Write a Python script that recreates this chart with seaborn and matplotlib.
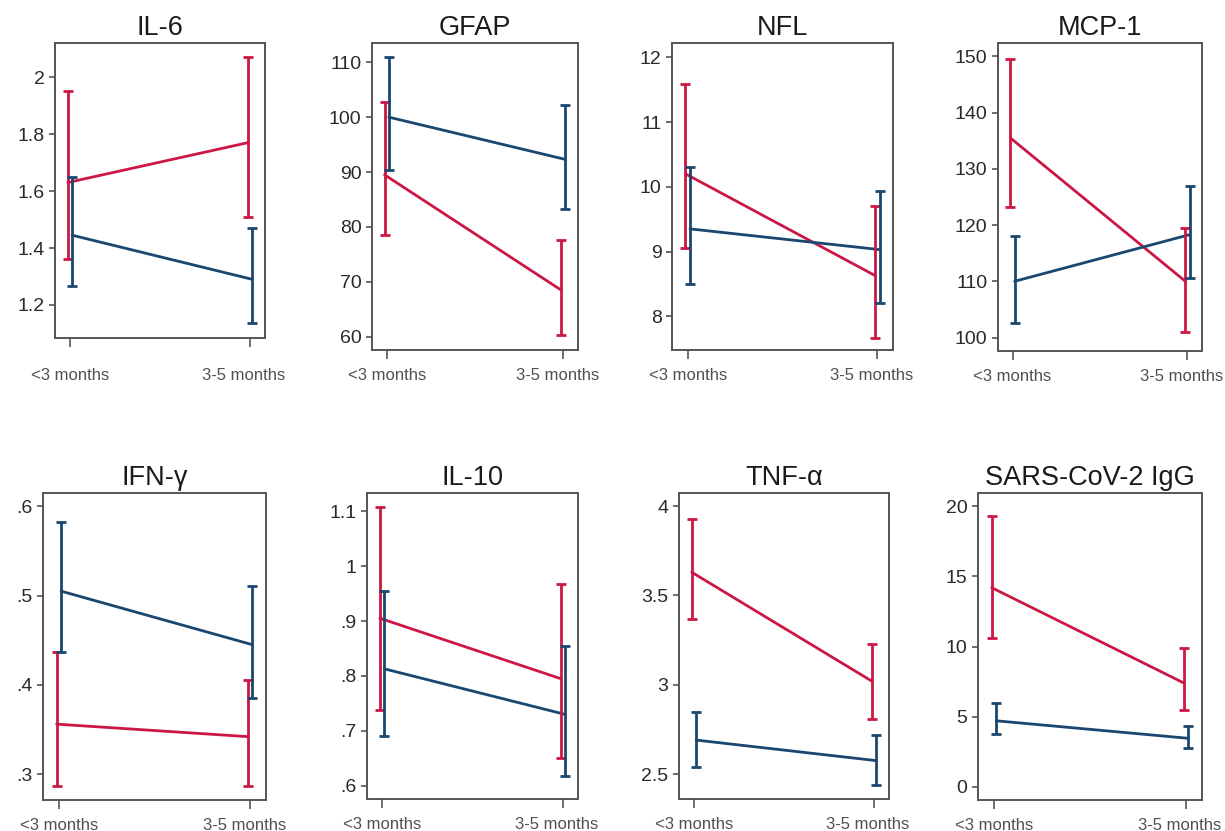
import numpy as np
import pandas as pd
import matplotlib
matplotlib.use("Agg")
import matplotlib.pyplot as plt
import matplotlib.transforms as mtransforms
import seaborn as sns

# === 1. Data (mean, lower CI, upper CI) ===
periods = ["<3 months", "3-5 months"]
markers = ["IL-6", "GFAP", "NFL", "MCP-1", "IFN-γ", "IL-10", "TNF-α", "SARS-CoV-2 IgG"]

red_mean = [[1.63, 1.77], [89.5, 68.5], [10.2, 8.63], [135.5, 110.0],
            [0.356, 0.342], [0.905, 0.795], [3.63, 3.02], [14.2, 7.4]]
red_lo = [[1.36, 1.51], [78.5, 60.3], [9.05, 7.67], [123.2, 101.0],
          [0.287, 0.287], [0.738, 0.650], [3.37, 2.81], [10.6, 5.5]]
red_hi = [[1.95, 2.07], [102.7, 77.7], [11.58, 9.70], [149.5, 119.5],
          [0.437, 0.406], [1.108, 0.967], [3.93, 3.23], [19.3, 9.9]]

blue_mean = [[1.445, 1.29], [100.0, 92.3], [9.35, 9.03], [110.0, 118.3],
             [0.505, 0.445], [0.813, 0.730], [2.69, 2.575], [4.7, 3.45]]
blue_lo = [[1.265, 1.135], [90.3, 83.2], [8.50, 8.20], [102.5, 110.5],
           [0.437, 0.385], [0.690, 0.617], [2.54, 2.44], [3.75, 2.75]]
blue_hi = [[1.65, 1.47], [111.0, 102.3], [10.30, 9.93], [118.0, 127.0],
           [0.582, 0.511], [0.955, 0.855], [2.85, 2.72], [6.0, 4.3]]

y_ticks = [[1.2, 1.4, 1.6, 1.8, 2.0], [60, 70, 80, 90, 100, 110], [8, 9, 10, 11, 12],
           [100, 110, 120, 130, 140, 150], [0.3, 0.4, 0.5, 0.6], [0.6, 0.7, 0.8, 0.9, 1.0, 1.1],
           [2.5, 3.0, 3.5, 4.0], [0, 5, 10, 15, 20]]
y_ticklabels = [["1.2", "1.4", "1.6", "1.8", "2"], ["60", "70", "80", "90", "100", "110"],
                ["8", "9", "10", "11", "12"], ["100", "110", "120", "130", "140", "150"],
                [".3", ".4", ".5", ".6"], [".6", ".7", ".8", ".9", "1", "1.1"],
                ["2.5", "3", "3.5", "4"], ["0", "5", "10", "15", "20"]]
y_lims = [(1.084, 2.12), (57.6, 113.5), (7.48, 12.22), (97.6, 152.4),
          (0.271, 0.615), (0.576, 1.133), (2.36, 4.074), (-0.95, 20.95)]

# === 2. Layout (axes boxes in pixels: left, top, right, bottom) ===
W, H = 1225, 831
boxes = [(55, 43, 265, 338), (372, 43, 578, 350), (672, 43, 893, 350), (998, 43, 1202, 351),
         (43, 493, 266, 800), (367, 493, 578, 799), (679, 493, 889, 799), (978, 493, 1202, 800)]
x_pads = [15, 6.5, 6.5, 6.5, 6.5, 6.5, 6.5, 6.5]

RED = "#cc1744"
BLUE = "#1a476f"

sns.set_theme(style="white")
plt.rcParams["font.family"] = ["Liberation Sans", "DejaVu Sans"]

fig = plt.figure(figsize=(W / 100, H / 100), dpi=100)

for i, name in enumerate(markers):
    l, t, r, b = boxes[i]
    ax = fig.add_axes([l / W, 1 - b / H, (r - l) / W, (b - t) / H])

    df = pd.DataFrame({
        "x": [0, 1, 0, 1],
        "mean": red_mean[i] + blue_mean[i],
        "lo": red_lo[i] + blue_lo[i],
        "hi": red_hi[i] + blue_hi[i],
        "group": ["red", "red", "blue", "blue"],
    })
    # small horizontal dodge between the two groups
    df["xd"] = df["x"] + df["group"].map({"red": -0.012, "blue": 0.012})

    sns.lineplot(data=df, x="xd", y="mean", hue="group", palette={"red": RED, "blue": BLUE},
                 linewidth=2, legend=False, ax=ax)
    for grp, col in [("red", RED), ("blue", BLUE)]:
        d = df[df["group"] == grp]
        ax.errorbar(d["xd"], d["mean"], yerr=[d["mean"] - d["lo"], d["hi"] - d["mean"]],
                    fmt="none", ecolor=col, elinewidth=2, capsize=3.5, capthick=2)

    ax.set_xlim(-0.083, 1.083)
    ax.set_ylim(*y_lims[i])
    ax.set_xticks([0, 1])
    ax.set_xticklabels(periods, fontsize=12, color="#505050")
    ax.set_yticks(y_ticks[i])
    ax.set_yticklabels(y_ticklabels[i], fontsize=14, color="#2a2a2a")
    ax.tick_params(axis="x", bottom=True, direction="out", length=6.5, width=1.2,
                   color="#555555", pad=x_pads[i])
    ax.tick_params(axis="y", left=True, direction="out", length=4.5, width=1.2,
                   color="#555555", pad=3)
    # right-hand label sits a little left of its tick, as in the original
    lab = ax.get_xticklabels()[1]
    lab.set_transform(lab.get_transform() + mtransforms.ScaledTranslation(-6 / 100, 0, fig.dpi_scale_trans))
    ax.set_xlabel("")
    ax.set_ylabel("")
    ax.set_title(name, fontsize=19.5, color="#1a1a1a", pad=6)
    for s in ax.spines.values():
        s.set_color("#555555")
        s.set_linewidth(1.4)

fig.savefig("out.png", dpi=100)
